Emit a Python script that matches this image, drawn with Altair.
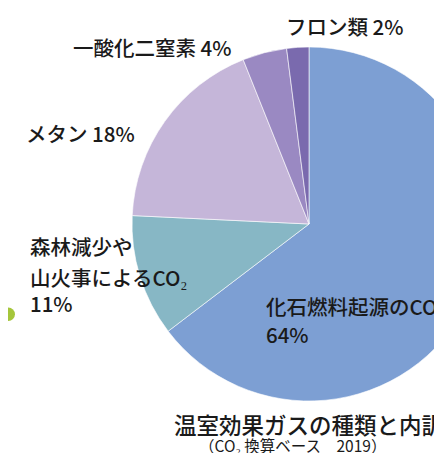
import altair as alt
import pandas as pd

# Data
categories = ["化石燃料起源のCO₂", "森林減少や山火事によるCO₂", "メタン", "一酸化二窒素", "フロン類"]
shares = [64, 11, 18, 4, 2]
colors = ["#7d9fd3", "#87b7c5", "#c5b6d9", "#9a89c2", "#7a6aae"]
label_lines = [
    ["化石燃料起源のCO₂", "64%"],
    ["森林減少や", "山火事によるCO₂", "11%"],
    ["メタン 18%"],
    ["一酸化二窒素 4%"],
    ["フロン類 2%"],
]
title_text = "温室効果ガスの種類と内訳"
subtitle_text = "（CO₂ 換算ベース　2019）"

FONT = "Noto Sans CJK JP"
CX, CY, R = 301, 216, 177

df = pd.DataFrame({"category": categories, "share": shares, "idx": list(range(len(categories)))})

pie = alt.Chart(df).mark_arc(outerRadius=R, stroke="#ffffff", strokeWidth=0.6).encode(
    theta=alt.Theta("share:Q", stack=True),
    color=alt.Color("category:N", scale=alt.Scale(domain=categories, range=colors), legend=None),
    order=alt.Order("idx:Q"),
    x=alt.value(CX),
    y=alt.value(CY),
)


def text_layer(txt, x, y, size=20.5, weight=500):
    return alt.Chart(pd.DataFrame({"t": [txt]})).mark_text(
        align="left", baseline="middle", font=FONT, fontSize=size, fontWeight=weight,
        color="#1a1a1a",
    ).encode(text="t:N", x=alt.value(x), y=alt.value(y))


label_pos = [
    [(258, 301), (258, 329)],
    [(22, 241), (22, 272), (22, 298)],
    [(18, 128)],
    [(65, 42)],
    [(278, 21)],
]
label_layers = []
for lines, poss in zip(label_lines, label_pos):
    for txt, (lx, ly) in zip(lines, poss):
        label_layers.append(text_layer(txt, lx, ly))

dots = alt.Chart(pd.DataFrame({"d": [0, 1]})).mark_circle(color="#a5c63b", opacity=1).encode(
    x=alt.X("d:O", scale=alt.Scale(domain=[0, 1], range=[4, -11]), axis=None),
    y=alt.Y("d:O", scale=alt.Scale(domain=[0, 1], range=[300, 325]), axis=None),
    size=alt.value(180),
)

title = text_layer(title_text, 166, 419, size=22.5, weight=500)
subtitle = text_layer(subtitle_text, 191, 439, size=15.5, weight=400)

chart = alt.layer(pie, dots, *label_layers, title, subtitle).properties(
    width=426, height=445, autosize=alt.AutoSizeParams(type="none"), padding=0
).configure_view(stroke=None)

chart.save("out.html", embed_options={"renderer": "svg", "actions": False})
